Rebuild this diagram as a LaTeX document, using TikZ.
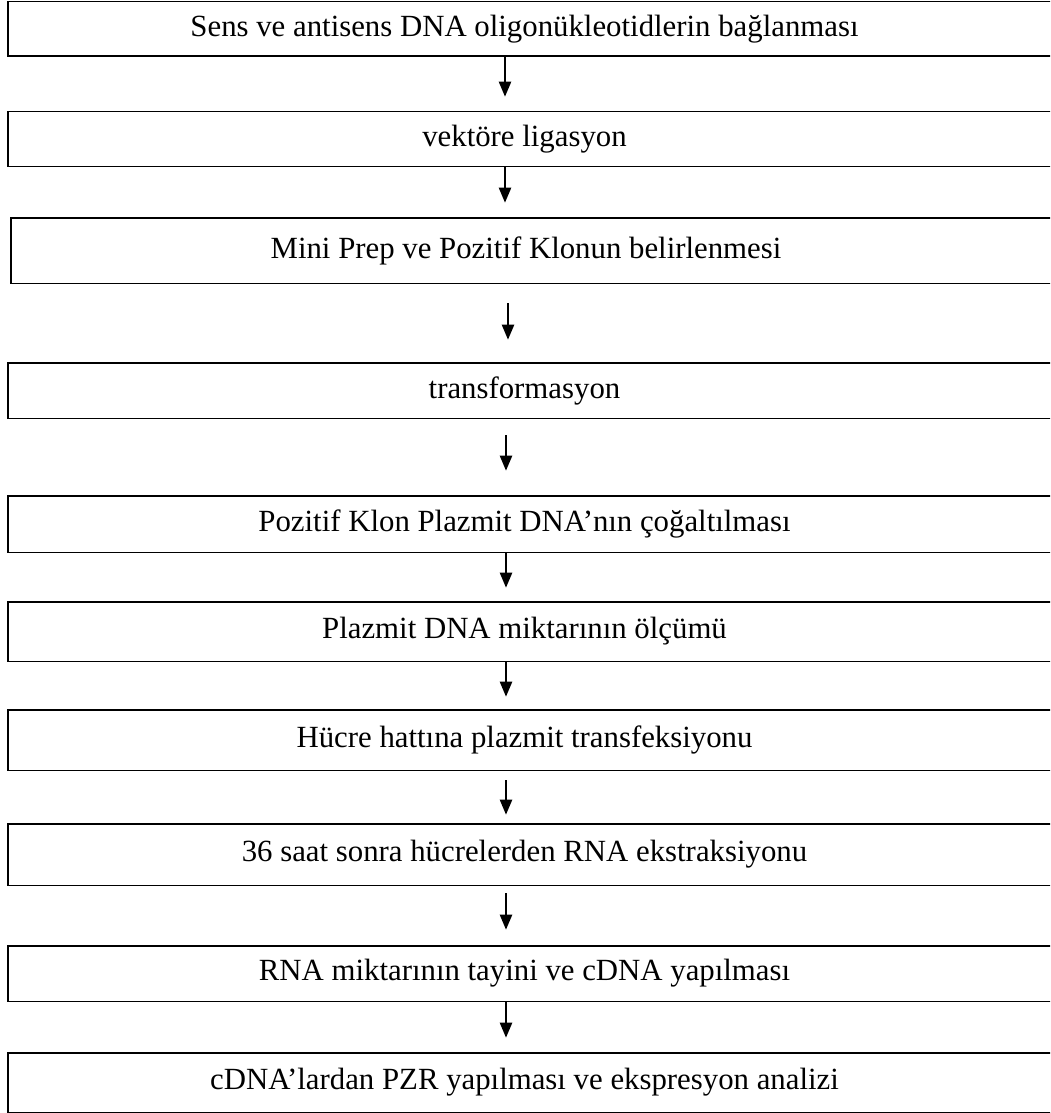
\documentclass[tikz,border=0pt]{standalone}
\usepackage{fontspec}
\setmainfont{Liberation Serif}
\usetikzlibrary{arrows.meta,calc}
\begin{document}
\begin{tikzpicture}[x=0.5pt,y=-0.5pt,
  stepbox/.style={draw=none,inner sep=0pt,minimum width=516.5pt,font=\fontsize{15.4}{18}\selectfont},
  boxline/.style={line width=0.9pt,black},
  flow/.style={line width=0.65pt,-{Triangle[length=7.5pt,width=6.2pt]}}]
\useasboundingbox (0,0) rectangle (1050,1113);
\clip (0,0) rectangle (1050,1113);
% step boxes (open to the right)
\node[stepbox,minimum height=27pt]   (b1)  at (524.5,29)    {Sens ve antisens DNA oligonükleotidlerin bağlanması};
\node[stepbox,minimum height=27pt]   (b2)  at (524.5,139)   {vektöre ligasyon};
\node[stepbox,minimum height=32.5pt,minimum width=515pt] (b3) at (526,250.5) {Mini Prep ve Pozitif Klonun belirlenmesi};
\node[stepbox,minimum height=27.5pt] (b4)  at (524.5,390.5) {transformasyon};
\node[stepbox,minimum height=28pt]   (b5)  at (524.5,524)   {Pozitif Klon Plazmit DNA’nın çoğaltılması};
\node[stepbox,minimum height=29.5pt] (b6)  at (524.5,631.5) {Plazmit DNA miktarının ölçümü};
\node[stepbox,minimum height=30pt]   (b7)  at (524.5,740)   {Hücre hattına plazmit transfeksiyonu};
\node[stepbox,minimum height=30.5pt] (b8)  at (524.5,854.5) {36 saat sonra hücrelerden RNA ekstraksiyonu};
\node[stepbox,minimum height=27.5pt] (b9)  at (524.5,973.5) {RNA miktarının tayini ve cDNA yapılması};
\node[stepbox,minimum height=29.5pt] (b10) at (524.5,1082.5){cDNA’lardan PZR yapılması ve ekspresyon analizi};
\foreach \b in {b1,b2,b3,b4,b5,b6,b7,b8,b9,b10}
  \draw[boxline] ([xshift=20pt]\b.north east) -- (\b.north west) -- (\b.south west) -- ([xshift=20pt]\b.south east);
% arrows between the steps
\coordinate (ax) at (505,0);
\coordinate (bx) at (508,0);
\coordinate (cx) at (506,0);
\draw[flow] (ax |- b1.south) -- ($(ax |- b2.north)+(0,-15)$);
\draw[flow] (ax |- b2.south) -- ($(ax |- b3.north)+(0,-15)$);
\draw[flow] ($(bx |- b3.south)+(0,20)$) -- ($(bx |- b4.north)+(0,-23)$);
\draw[flow] ($(cx |- b4.south)+(0,17)$) -- ($(cx |- b5.north)+(0,-25)$);
\draw[flow] (cx |- b5.south) -- ($(cx |- b6.north)+(0,-14)$);
\draw[flow] (cx |- b6.south) -- ($(cx |- b7.north)+(0,-13)$);
\draw[flow] ($(cx |- b7.south)+(0,10)$) -- ($(cx |- b8.north)+(0,-9)$);
\draw[flow] ($(cx |- b8.south)+(0,8)$) -- ($(cx |- b9.north)+(0,-16)$);
\draw[flow] (cx |- b9.south) -- ($(cx |- b10.north)+(0,-15)$);
\end{tikzpicture}
\end{document}
